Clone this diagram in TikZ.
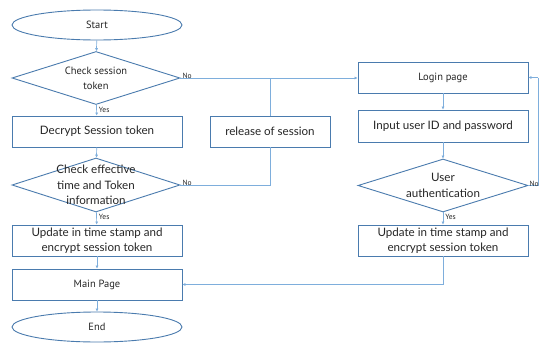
\documentclass[tikz,border=0pt]{standalone}
\usepackage{fontspec}
\setmainfont{Lato}
\newfontfamily\narrowfont{PT Sans}
\usetikzlibrary{shapes.geometric,arrows.meta}
\definecolor{boxline}{HTML}{4A7BAE}
\definecolor{conn}{HTML}{7EAEDC}
\definecolor{txt}{HTML}{262626}
\tikzset{
  base/.style={draw=boxline, line width=0.9pt, text=txt, inner sep=1pt},
  procbox/.style={base, rectangle, minimum width=170pt, minimum height=31pt, font=\fontsize{11.6}{15.5}\selectfont, align=center},
  narrowbox/.style={procbox, font=\narrowfont\fontsize{10.5}{13}\selectfont},
  termnode/.style={base, ellipse, minimum width=170pt, minimum height=30pt, font=\narrowfont\fontsize{10.5}{13}\selectfont},
  decnode/.style={base, diamond, minimum width=168pt, minimum height=53pt, inner sep=0pt},
  dectext/.style={text=txt, align=center, inner sep=0pt},
  flow/.style={draw=conn, line width=0.7pt, -{Latex[length=3pt,width=3pt]}},
  plain/.style={draw=conn, line width=0.7pt},
  yn/.style={text=txt, font=\narrowfont\fontsize{7.5}{9}\selectfont, inner sep=0pt}
}
\begin{document}
\begin{tikzpicture}[x=1pt,y=-1pt]
\useasboundingbox (0,0) rectangle (539,343);
\fill[white] (0,0) rectangle (539,343);
% left column
\node[termnode] (start) at (97,25) {Start};
\node[decnode] (d1) at (96,78) {};
\node[dectext, font=\narrowfont\fontsize{10.5}{15}\selectfont] (d1t) at (96,78) {Check session\\token};
\node[procbox] (dec) at (97,131.5) {Decrypt Session token};
\node[decnode, minimum height=54pt] (d2) at (96,185) {};
\node[dectext, font=\fontsize{11.6}{15.5}\selectfont] (d2t) at (96,185) {Check effective\\time and Token\\information};
\node[procbox] (upd1) at (97,240.5) {Update in time stamp and\\encrypt session token};
\node[narrowbox] (main) at (97,284.5) {Main Page};
\node[termnode] (end) at (97,327) {End};
% middle
\node[procbox, minimum width=120pt] (rel) at (270,131.5) {release of session};
% right column
\node[narrowbox] (login) at (443,77.5) {Login page};
\node[procbox, minimum height=32pt] (inp) at (443,126) {Input user ID and password};
\node[decnode, minimum width=170pt] (d3) at (443,185.5) {};
\node[dectext, font=\fontsize{11.6}{15.5}\selectfont] (d3t) at (443,185.5) {User\\authentication};
\node[procbox] (upd2) at (443,240.5) {Update in time stamp and\\encrypt session token};
% coordinates
\coordinate (j1) at (rel.north |- d1.east);
\coordinate (j2) at (rel.south |- d2.east);
\coordinate (r1) at (538,185.5);
\coordinate (r2) at (538,77.5);
\coordinate (m1) at (upd2.south |- main.east);
% connectors
\draw[flow] (start) -- (d1);
\draw[flow] (d1) -- (dec) node[yn, pos=0.45, anchor=west, xshift=2pt] (y1) {Yes};
\draw[flow] (dec) -- (d2);
\draw[flow] (d2) -- (upd1) node[yn, pos=0.4, anchor=west, xshift=2pt] (y2) {Yes};
\draw[flow] (upd1) -- (main);
\draw[flow] (main) -- (end);
\draw[flow] (d1.east) -- (login.west |- d1.east);
\node[yn, anchor=south west] (n1) at ([xshift=2pt,yshift=-1pt]d1.east) {No};
\draw[plain] (d2.east) -- (j2) -- (rel.south);
\node[yn, anchor=south west] (n2) at ([xshift=2pt,yshift=-1pt]d2.east) {No};
\draw[plain] (rel.north) -- (j1);
\draw[flow] (login) -- (inp);
\draw[flow] (inp) -- (d3);
\draw[flow] (d3) -- (upd2) node[yn, pos=0.4, anchor=west, xshift=2pt] (y3) {Yes};
\draw[plain] (d3.east) -- (r1) -- (r2);
\draw[flow] (r2) -- (login.east);
\node[yn, anchor=south west] (n3) at ([xshift=1pt,yshift=-1pt]d3.east) {No};
\draw[flow] (upd2.south) -- (m1) -- (main.east);
\end{tikzpicture}
\end{document}
